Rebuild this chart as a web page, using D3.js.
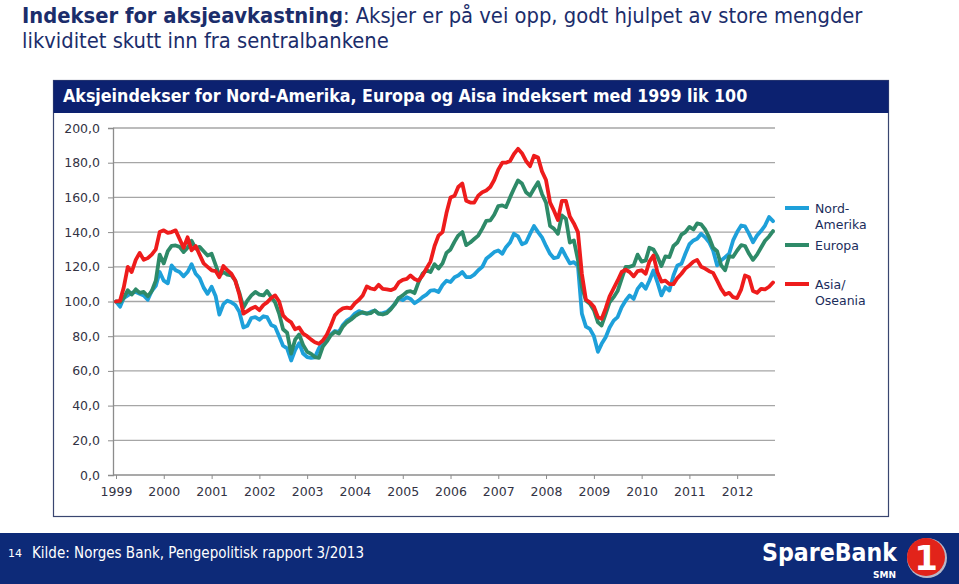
<!DOCTYPE html>
<html><head><meta charset="utf-8">
<script src="https://cdn.jsdelivr.net/npm/d3@7"></script>
<style>body{margin:0;background:#fff}svg{display:block}</style>
</head><body>
<svg id="c" width="959" height="584"></svg>
<script>
// ---------- data ----------
const startYear = 1999, startMonthIndex = 0; // January 1999, monthly data
const yearTicks = [1999,2000,2001,2002,2003,2004,2005,2006,2007,2008,2009,2010,2011,2012];
const yTicks = [0,20,40,60,80,100,120,140,160,180,200];
const nordAmerika = [
100,97,102,103.5,105,105.5,104.5,103.5,101,106,
109,117,112,110.5,120.8,118,117,114.5,117,121.5,
116,113.5,108,104.4,108.5,103,92.5,98.5,100.5,99.5,
98,94,85,86,90.5,91,89.5,91.5,91,86.5,
85.5,80,74.5,73,66,72,76,70,68,67.5,
67.8,73,77,79.5,81,83,82.5,86.5,89,90.5,
93,94.5,93.5,93,94,94.8,93,93.3,94,96,
98.5,102,100.8,102.5,101.5,99,100.5,102.5,104,106.3,
106.5,105.5,109.5,112,111.2,114,115,117,114,114,
115.5,118,120,124.6,126.5,128.5,129.4,127.5,131.3,134,
139,137.5,133,134,139,143.5,140,137,132,127.5,
125,125.5,130.4,126,122,122.7,120.5,93,85.5,84.2,
80,71,75.6,79.4,85,89,91,96.7,100.6,103.5,
101.5,107.3,110.2,107.3,112,117.9,111.2,103.5,108.3,106.3,
115,120.8,121.7,127.5,133,135.2,136.2,139,137,134.2,
129.4,120.8,123.7,125.5,127.5,135.2,140,143.8,143.3,139,
134.2,138,140.6,143.8,148.7,146.3];
const europa = [
100,99.6,102,106.5,104,107,105,105.5,103,106,
112,127,122,129,132,132.3,131.5,128.5,131,135,
130.5,131.5,129,126.5,127.5,121,115,117,115.5,115,
112,105,96.5,100.5,103.5,105.5,104,103.5,106,102.5,
99.5,93,84,82,70,78,81,75,71,69.8,
68,67.5,74,77,80.5,82.5,81.5,85.5,88,89.5,
91.5,93,93.8,93,93.3,94.8,93,92.5,93.3,95.5,
98.5,102,103.5,105.5,106,104.8,111,116,118,117,
121.5,119,122,128,130,134.5,138,140,132.5,134,
136,138,142,146.5,146.7,150,155,155.4,154.4,160,
165,169.8,168,163,161,165,168.8,162,157,143.5,
142,139,149.6,147.7,134,135.2,124,108.5,100.6,98.7,
95,88,86.2,92.9,99.6,102.5,106,113,120,120,
120.8,127,123,123.7,131,130,126,120.5,126,125.6,
132,134,138.5,140,143,141.5,145,144.5,141.5,137,
131,129,120.8,118,126,125.8,129.4,132.5,132,127.5,
124,127,131,135,137.5,140.6];
const asiaOseania = [
100,100.5,108,120,117,124,128,124,125,127,
130,140,141,139.5,140,141,136,131,137,129.5,
132,127,122,120,118,117.5,114,120.5,118,116,
112,104,93,94.5,96,97,95,98,99.5,102,
103.5,100,92,89.5,88,84,85,81.5,80,78,
76.5,75.6,77.5,81,86,92,94.5,96,96.5,96,
99,101,103.5,108.7,107.5,107,109.6,107.3,107,106.5,
107.5,111,112.5,113,115,113,112,115,119,123,
132,138,140,151,160,161,166,168,158,157,
157,161,163,164,166,170,176,180,180,181,
185,188,185.5,181,178,184,183,175,170,157,
152.5,147,158,158,149,145,140,116,101,99.5,
97,91,90,96,103,107.5,112,117,118.3,117,
114.5,117.5,118,116,123,126.5,117,111.5,112,110,
110,113.5,116,119,120.8,123,124,120,119,117.5,
116.5,112,107.3,104,105,102.5,102,107,115,114,
106,105,107.3,107,108.5,111];
const seriesLabels = [["Nord-","Amerika"],["Europa"],["Asia/","Oseania"]];
const seriesColors = ["#1ea0da","#2e8a68","#ee1c1c"];
const titleBold = "Indekser for aksjeavkastning";
const titleRest = ": Aksjer er på vei opp, godt hjulpet av store mengder";
const titleLine2 = "likviditet skutt inn fra sentralbankene";
const chartTitle = "Aksjeindekser for Nord-Amerika, Europa og Aisa indeksert med 1999 lik 100";
const footerText = "Kilde: Norges Bank, Pengepolitisk rapport 3/2013";
const pageNumber = "14";

// ---------- build ----------
const svg = d3.select("#c");
const navy = "#0c2170";
const textNavy = "#1b2d6b";

function fitWidth(sel, target){
  const w = sel.node().getComputedTextLength();
  const fs = parseFloat(sel.attr("font-size"));
  const nfs = fs * target / w;
  sel.attr("font-size", nfs);
  return nfs;
}

// Title
const t1 = svg.append("text").attr("x",22).attr("y",23)
  .attr("font-family","'DejaVu Sans Condensed','DejaVu Sans',sans-serif")
  .attr("font-size",20).attr("fill",textNavy);
t1.append("tspan").attr("font-weight","bold").text(titleBold);
t1.append("tspan").text(titleRest);
const tfs = fitWidth(t1, 841);
svg.append("text").attr("x",22).attr("y",48)
  .attr("font-family","'DejaVu Sans Condensed','DejaVu Sans',sans-serif")
  .attr("font-size",tfs).attr("fill",textNavy).text(titleLine2);

// Chart box
svg.append("rect").attr("x",53.5).attr("y",80.5).attr("width",835).attr("height",436)
  .attr("fill","#fff").attr("stroke","#3a4670").attr("stroke-width",1.2);
svg.append("rect").attr("x",53.5).attr("y",80.5).attr("width",835).attr("height",32.5)
  .attr("fill",navy);
const ht = svg.append("text").attr("x",63).attr("y",102)
  .attr("font-family","'DejaVu Sans Condensed','DejaVu Sans',sans-serif")
  .attr("font-weight","bold").attr("font-size",15).attr("fill","#fff").text(chartTitle);
fitWidth(ht, 685);

// Scales
const months = d3.range(nordAmerika.length).map(i => new Date(startYear, startMonthIndex + i, 1));
const x = d3.scaleTime().domain([months[0], months[months.length-1]]).range([116, 773]);
const y = d3.scaleLinear().domain([0, 200]).range([475, 128]);

// Gridlines
svg.append("g").selectAll("line").data(yTicks.filter(d=>d>0)).join("line")
  .attr("x1",113).attr("x2",775).attr("y1",d=>y(d)).attr("y2",d=>y(d))
  .attr("stroke","#a6a6a6").attr("stroke-width",1.3);

// Y axis
const fmt = d => d3.format(".1f")(d).replace(".", ",");
const yAxis = svg.append("g").attr("transform","translate(113,0)")
  .call(d3.axisLeft(y).tickValues(yTicks).tickFormat(fmt).tickSize(5).tickPadding(8));
yAxis.select(".domain").attr("stroke","#8c8c8c").attr("stroke-width",1.3);
yAxis.selectAll(".tick line").attr("stroke","#8c8c8c");
yAxis.selectAll("text").attr("font-family","'DejaVu Sans',Verdana,sans-serif")
  .attr("font-size",12.5).attr("fill","#333344");

// X axis
const xAxis = svg.append("g").attr("transform","translate(0,475)")
  .call(d3.axisBottom(x).tickValues(yearTicks.map(yr=>new Date(yr,0,1)))
    .tickFormat(d3.timeFormat("%Y")).tickSize(4).tickPadding(8));
xAxis.select(".domain").attr("d","M113,0H775").attr("stroke","#8c8c8c").attr("stroke-width",1.3);
xAxis.selectAll(".tick line").attr("stroke","#8c8c8c");
xAxis.selectAll("text").attr("font-family","'DejaVu Sans',Verdana,sans-serif")
  .attr("font-size",12.5).attr("fill","#333344");

// Lines
const seriesData = [nordAmerika, europa, asiaOseania];
const line = d3.line().x((d,i)=>x(months[i])).y(d=>y(d));
svg.append("g").selectAll("path").data(seriesData).join("path")
  .attr("d", line).attr("fill","none")
  .attr("stroke",(d,i)=>seriesColors[i]).attr("stroke-width",3.8)
  .attr("stroke-linejoin","round").attr("stroke-linecap","round");

// Legend
const legY = [208, 245, 284];
const leg = svg.append("g").selectAll("g").data(seriesLabels).join("g")
  .attr("transform",(d,i)=>`translate(785,${legY[i]})`);
leg.append("line").attr("x1",0).attr("x2",24).attr("y1",0).attr("y2",0)
  .attr("stroke",(d,i)=>seriesColors[i]).attr("stroke-width",4);
leg.each(function(d){
  const g = d3.select(this);
  d.forEach((s,k)=>{
    g.append("text").attr("x",30).attr("y",4.5 + k*16.5)
      .attr("font-family","'DejaVu Sans',Verdana,sans-serif").attr("font-size",12.5)
      .attr("fill","#1b2d5b").text(s);
  });
});

// Footer
svg.append("rect").attr("x",0).attr("y",533).attr("width",959).attr("height",51).attr("fill","#0d2a78");
svg.append("text").attr("x",8).attr("y",557).attr("font-family","'DejaVu Sans',sans-serif")
  .attr("font-size",11).attr("fill","#fff").text(pageNumber);
const ft = svg.append("text").attr("x",32).attr("y",558)
  .attr("font-family","'DejaVu Sans Condensed','DejaVu Sans',sans-serif")
  .attr("font-size",15).attr("fill","#fff").text(footerText);
fitWidth(ft, 332);

// Logo
const lg = svg.append("text").attr("x",762).attr("y",561)
  .attr("font-family","'DejaVu Sans Condensed','DejaVu Sans',sans-serif")
  .attr("font-weight","bold").attr("font-size",27).attr("fill","#fff").text("SpareBank");
fitWidth(lg, 135);
svg.append("text").attr("x",896).attr("y",578).attr("text-anchor","end")
  .attr("font-family","'DejaVu Sans',sans-serif").attr("font-weight","bold")
  .attr("font-size",9).attr("fill","#fff").text("SMN");
svg.append("circle").attr("cx",927).attr("cy",558).attr("r",20).attr("fill","#b8b8c8");
svg.append("circle").attr("cx",926).attr("cy",557).attr("r",19).attr("fill","#e2231a");
svg.append("text").attr("x",926).attr("y",570).attr("text-anchor","middle")
  .attr("font-family","'DejaVu Sans',sans-serif").attr("font-weight","bold")
  .attr("font-size",34).attr("fill","#fff").text("1");
</script>
</body></html>
